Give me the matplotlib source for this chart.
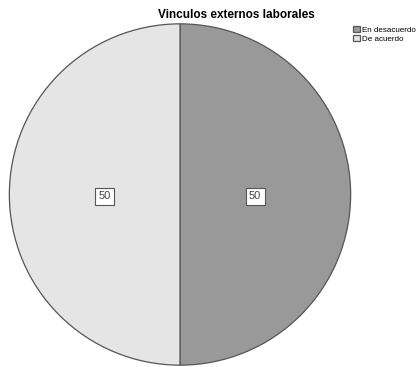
import numpy as np
import matplotlib.pyplot as plt

categories = ["En desacuerdo", "De acuerdo"]
values = [50, 50]
colors = ["#999999", "#e5e5e5"]

plt.rcParams['font.family'] = ['Liberation Sans', 'DejaVu Sans']

W, H = 419, 367
fig = plt.figure(figsize=(W / 100, H / 100), dpi=100)
ax = fig.add_axes([8 / W, 1 - 366 / H, 344 / W, 343 / H])

wedges, texts = ax.pie(values, colors=colors, startangle=90, counterclock=False,
                       radius=1, wedgeprops=dict(edgecolor="#555555", linewidth=0.9))
ax.set_xlim(-1.005, 1.005)
ax.set_ylim(-1.005, 1.005)

# value labels in boxes
for w, v in zip(wedges, values):
    ang = np.deg2rad((w.theta1 + w.theta2) / 2)
    ax.text(0.44 * np.cos(ang), 0.44 * np.sin(ang) - 0.01, str(v), ha="center", va="center",
            fontsize=8, color="#444444",
            bbox=dict(boxstyle="square,pad=0.3", fc="white", ec="#555555", lw=0.8))

fig.text(236 / W, 1 - 15 / H, "Vinculos externos laborales", ha="center", va="center",
         fontsize=8.5, fontweight="bold")

fig.legend(wedges, categories, loc="upper left", bbox_to_anchor=(351 / W, 1 - 24 / H),
           frameon=False, fontsize=5.8, handlelength=0.9, handleheight=0.9,
           handletextpad=0.3, labelspacing=0.1, borderpad=0.2, borderaxespad=0)

fig.savefig("out.png", dpi=100)
